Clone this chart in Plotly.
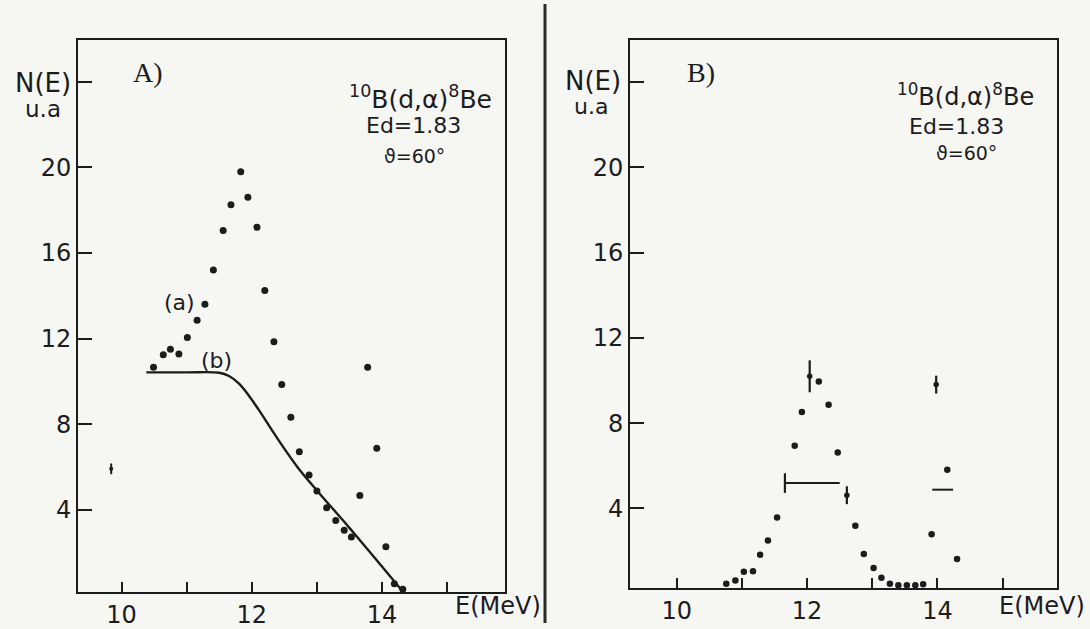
import plotly.graph_objects as go

# ---------------- data ----------------
# Panel A : measured spectrum (a) and calculated curve (b)
a_x = [10.49, 10.64, 10.75, 10.88, 11.01, 11.16, 11.28, 11.41, 11.56, 11.68, 11.83, 11.94, 12.08, 12.20,
       12.34, 12.46, 12.60, 12.73, 12.88, 13.00, 13.15, 13.29, 13.42, 13.53, 13.66, 13.78, 13.92, 14.06,
       14.19, 14.32]
a_y = [10.66, 11.24, 11.50, 11.28, 12.05, 12.85, 13.60, 15.20, 17.05, 18.25, 19.80, 18.60, 17.20, 14.25,
       11.85, 9.85, 8.32, 6.71, 5.62, 4.87, 4.09, 3.50, 3.04, 2.72, 4.66, 10.66, 6.87, 2.27,
       0.54, 0.28]
a_iso_x = [9.84]
a_iso_y = [5.91]
a_iso_err = [0.25]

curve_x = [10.38, 11.0, 11.5, 11.65, 11.8, 11.95, 12.1, 12.4, 12.7, 13.0, 13.5, 14.0, 14.3]
curve_y = [10.42, 10.42, 10.40, 10.25, 9.90, 9.35, 8.70, 7.30, 6.00, 4.90, 3.15, 1.35, 0.25]

# Panel B : spectrum
b_x = [10.76, 10.90, 11.03, 11.17, 11.28, 11.40, 11.54, 11.81, 11.92, 12.18, 12.33, 12.47, 12.74, 12.87,
       13.02, 13.14, 13.27, 13.40, 13.53, 13.66, 13.78, 13.91, 14.15, 14.30]
b_y = [0.47, 0.62, 1.03, 1.05, 1.83, 2.50, 3.58, 6.94, 8.52, 9.96, 8.86, 6.63, 3.19, 1.86,
       1.21, 0.75, 0.47, 0.39, 0.39, 0.39, 0.44, 2.79, 5.81, 1.63]
b_err_x = [12.04, 12.61, 13.98]
b_err_y = [10.20, 4.62, 9.81]
b_err = [0.75, 0.42, 0.42]
res_bar_x = [11.66, 12.50]
res_bar_y = [5.19, 5.19]
dash_x = [13.92, 14.24]
dash_y = [4.88, 4.88]

x_tickvals = [10, 11, 12, 13, 14, 15]
x_ticktext = ["10", "", "12", "", "14", ""]
y_tickvals = [4, 8, 12, 16, 20, 24]
y_ticktext = ["4", "8", "12", "16", "20", ""]

INK = "#1c1c1c"
FONT = "DejaVu Sans"

fig = go.Figure()

# ---- panel A ----
fig.add_trace(go.Scatter(x=curve_x, y=curve_y, mode="lines",
                         line=dict(color=INK, width=2.4, shape="spline", smoothing=1.0),
                         xaxis="x", yaxis="y", showlegend=False, hoverinfo="skip"))
fig.add_trace(go.Scatter(x=a_x, y=a_y, mode="markers", marker=dict(color=INK, size=7),
                         xaxis="x", yaxis="y", showlegend=False))
fig.add_trace(go.Scatter(x=a_iso_x, y=a_iso_y, mode="markers", marker=dict(color=INK, size=4),
                         error_y=dict(type="data", array=a_iso_err, color=INK, thickness=2, width=0),
                         xaxis="x", yaxis="y", showlegend=False))

# ---- panel B ----
fig.add_trace(go.Scatter(x=b_x, y=b_y, mode="markers", marker=dict(color=INK, size=6.5),
                         xaxis="x2", yaxis="y2", showlegend=False))
fig.add_trace(go.Scatter(x=b_err_x, y=b_err_y, mode="markers", marker=dict(color=INK, size=5.5),
                         error_y=dict(type="data", array=b_err, color=INK, thickness=2.2, width=0),
                         xaxis="x2", yaxis="y2", showlegend=False))
fig.add_trace(go.Scatter(x=res_bar_x, y=res_bar_y, mode="lines", line=dict(color=INK, width=2),
                         xaxis="x2", yaxis="y2", showlegend=False, hoverinfo="skip"))
fig.add_trace(go.Scatter(x=res_bar_x[:1], y=res_bar_y[:1], mode="markers",
                         marker=dict(symbol="line-ns-open", size=14, color=INK,
                                     line=dict(color=INK, width=2.2)),
                         xaxis="x2", yaxis="y2", showlegend=False, hoverinfo="skip"))
fig.add_trace(go.Scatter(x=dash_x, y=dash_y, mode="lines", line=dict(color=INK, width=2),
                         xaxis="x2", yaxis="y2", showlegend=False, hoverinfo="skip"))

W, H = 1090, 629

def px_x(p):
    return p / W

def px_y(p):
    return 1 - p / H

axis_common = dict(showline=True, linecolor=INK, linewidth=2, mirror=True, showgrid=False, zeroline=False,
                   ticks="inside", tickcolor=INK, tickwidth=2,
                   tickfont=dict(family=FONT, size=24, color=INK))

fig.update_layout(
    width=W, height=H,
    margin=dict(l=0, r=0, t=0, b=0),
    paper_bgcolor="#f6f6f3", plot_bgcolor="rgba(0,0,0,0)",
    xaxis=dict(domain=[px_x(78), px_x(505)], range=[9.33, 15.89], anchor="y",
               tickvals=x_tickvals, ticktext=x_ticktext, ticklen=10, **axis_common),
    yaxis=dict(domain=[px_y(598), px_y(40)], range=[0.14, 25.97], anchor="x",
               tickvals=y_tickvals, ticktext=y_ticktext, ticklen=14, **axis_common),
    xaxis2=dict(domain=[px_x(630), px_x(1057)], range=[9.284, 15.833], anchor="y2",
                tickvals=x_tickvals, ticktext=x_ticktext, ticklen=10, **axis_common),
    yaxis2=dict(domain=[px_y(594), px_y(40)], range=[0.25, 26.0], anchor="x2",
                tickvals=y_tickvals, ticktext=y_ticktext, ticklen=14, **axis_common),
)

def ann(x, y, text, size=22, family=FONT, xanchor="center", xref="paper", yref="paper"):
    if xref == "paper":
        x = px_x(x)
    if yref == "paper":
        y = px_y(y)
    fig.add_annotation(x=x, y=y, xref=xref, yref=yref, text=text, showarrow=False,
                       xanchor=xanchor, yanchor="middle",
                       font=dict(family=family, size=size, color=INK))

# panel A texts
ann(148, 73, "A)", size=28, family="Liberation Serif")
ann(73, 84, "N(E)", size=26, xanchor="right")
ann(43, 110, "u.a", size=23)
ann(420, 98, "<sup>10</sup>B(d,α)<sup>8</sup>Be", size=25)
ann(413, 127, "Ed=1.83", size=22)
ann(414, 158, "ϑ=60°", size=19)
ann(10.89, 13.7, "(a)", size=22, xref="x", yref="y")
ann(11.46, 10.98, "(b)", size=22, xref="x", yref="y")
ann(498, 612, "E(MeV)", size=24)

# panel B texts
ann(701, 73, "B)", size=28, family="Liberation Serif")
ann(623, 82, "N(E)", size=26, xanchor="right")
ann(591, 108, "u.a", size=22)
ann(965, 96, "<sup>10</sup>B(d,α)<sup>8</sup>Be", size=24)
ann(956, 128, "Ed=1.83", size=22)
ann(966, 154, "ϑ=60°", size=19)
ann(1042, 612, "E(MeV)", size=24)

# vertical divider between the two panels
fig.add_shape(type="line", xref="paper", yref="paper", x0=px_x(545), x1=px_x(545), y0=0, y1=px_y(4),
              line=dict(color="#2a2a2a", width=3))

fig.write_html("out.html", config={"displayModeBar": False},
               post_script="document.body.style.margin='0';")
